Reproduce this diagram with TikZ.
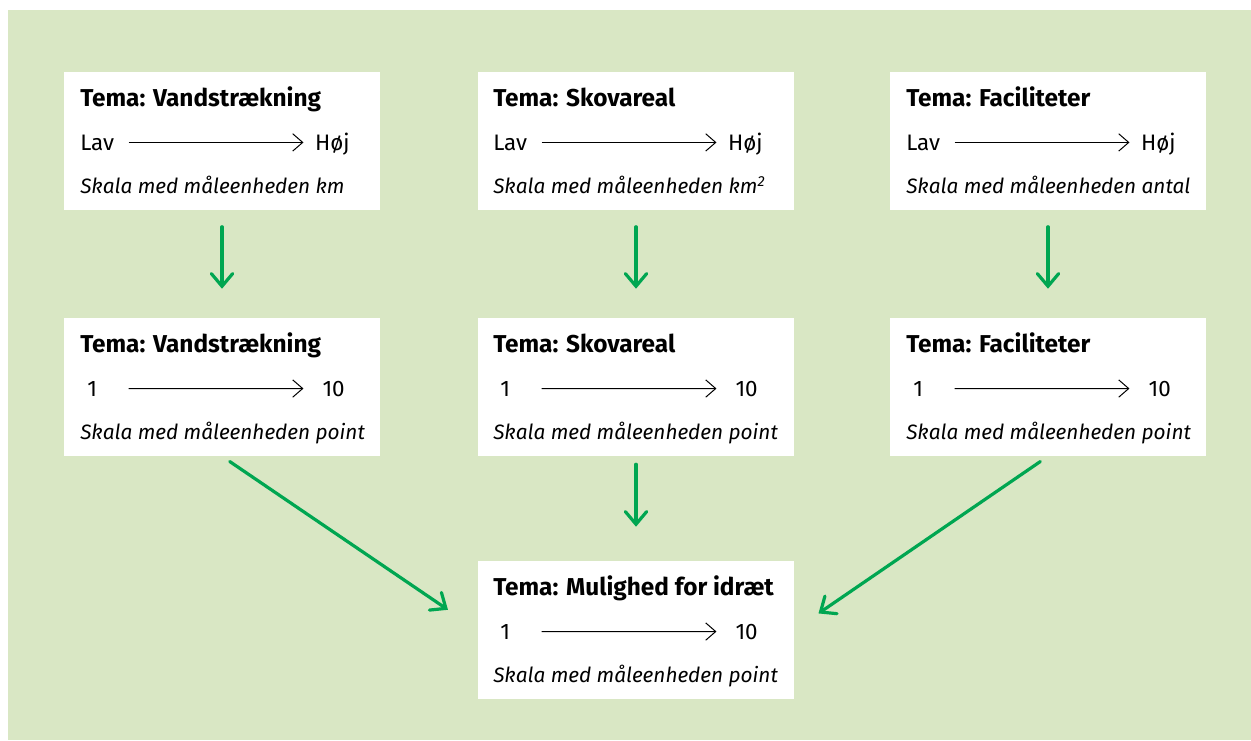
\documentclass[tikz,border=0pt]{standalone}
\usepackage{fontspec}
\setmainfont{Fira Sans}
\usetikzlibrary{arrows.meta}
\definecolor{bggreen}{RGB}{217,231,196}
\definecolor{arrgreen}{RGB}{0,166,81}

\begin{document}
\begin{tikzpicture}[x=0.75pt,y=0.75pt,yscale=-1,xscale=1,
  themebox/.style={fill=white, inner sep=0pt, minimum width=237pt, minimum height=103.5pt},
  titletxt/.style={anchor=base west, inner sep=0pt, font=\fontsize{18.3}{21}\selectfont\bfseries},
  unittxt/.style={anchor=base west, inner sep=0pt, font=\fontsize{15.6}{19}\selectfont\itshape},
  lowlbl/.style={anchor=base west, inner sep=0pt, text width=#1, align=left, font=\fontsize{16.8}{20}\selectfont},
  highlbl/.style={anchor=base east, inner sep=0pt, text width=#1, align=right, font=\fontsize{16.8}{20}\selectfont},
  scalearr/.style={line width=0.75pt, -{Straight Barb[length=7.5pt, width=13pt]}},
  flowarr/.style={arrgreen, line width=2.4pt, line cap=round, -{Straight Barb[length=9.5pt, width=16pt, line cap=round]}}]
\path (0,0) rectangle (1251,740); %picture size
\fill[bggreen] (8,10) rectangle (1251,740);

% Boxes: raw scales
\node[themebox] (vand1) at (222,140.5) {};
\node[themebox] (skov1) at (636,140.5) {};
\node[themebox] (facil1) at (1048,140.5) {};
% Boxes: points
\node[themebox] (vand2) at (222,387) {};
\node[themebox] (skov2) at (636,387) {};
\node[themebox] (facil2) at (1048,387) {};
% Box: result
\node[themebox] (idraet) at (636,630) {};

% Text: Vandstraekning (km)
\node[titletxt] (vand1t) at (80,106) {Tema: Vandstrækning};
\node[lowlbl=36pt] (vand1lo) at (80,150) {Lav};
\node[highlbl=34.5pt] (vand1hi) at (350,150) {Høj};
\node[unittxt] (vand1u) at (80,193) {Skala med måleenheden km};
% Text: Skovareal (km2)
\node[titletxt] (skov1t) at (493,106) {Tema: Skovareal};
\node[lowlbl=36pt] (skov1lo) at (493,150) {Lav};
\node[highlbl=34.5pt] (skov1hi) at (763,150) {Høj};
\node[unittxt] (skov1u) at (493,193) {Skala med måleenheden km\textsuperscript{2}};
% Text: Faciliteter (antal)
\node[titletxt] (facil1t) at (906,106) {Tema: Faciliteter};
\node[lowlbl=36pt] (facil1lo) at (906,150) {Lav};
\node[highlbl=34.5pt] (facil1hi) at (1176,150) {Høj};
\node[unittxt] (facil1u) at (906,193) {Skala med måleenheden antal};

% Text: Vandstraekning (point)
\node[titletxt] (vand2t) at (80,352) {Tema: Vandstrækning};
\node[lowlbl=30.75pt] (vand2lo) at (87,396) {1};
\node[highlbl=30.75pt] (vand2hi) at (345,396) {10};
\node[unittxt] (vand2u) at (80,439) {Skala med måleenheden point};
% Text: Skovareal (point)
\node[titletxt] (skov2t) at (493,352) {Tema: Skovareal};
\node[lowlbl=30.75pt] (skov2lo) at (500,396) {1};
\node[highlbl=30.75pt] (skov2hi) at (758,396) {10};
\node[unittxt] (skov2u) at (493,439) {Skala med måleenheden point};
% Text: Faciliteter (point)
\node[titletxt] (facil2t) at (906,352) {Tema: Faciliteter};
\node[lowlbl=30.75pt] (facil2lo) at (913,396) {1};
\node[highlbl=30.75pt] (facil2hi) at (1171,396) {10};
\node[unittxt] (facil2u) at (906,439) {Skala med måleenheden point};

% Text: Mulighed for idraet
\node[titletxt] (idraett) at (493,595) {Tema: Mulighed for idræt};
\node[lowlbl=30.75pt] (idraetlo) at (500,639) {1};
\node[highlbl=30.75pt] (idraethi) at (758,639) {10};
\node[unittxt] (idraetu) at (493,682) {Skala med måleenheden point};

% Scale arrows inside the boxes
\draw[scalearr] (vand1lo.east) -- (vand1lo.east -| vand1hi.west);
\draw[scalearr] (skov1lo.east) -- (skov1lo.east -| skov1hi.west);
\draw[scalearr] (facil1lo.east) -- (facil1lo.east -| facil1hi.west);
\draw[scalearr] (vand2lo.east) -- (vand2hi.west);
\draw[scalearr] (skov2lo.east) -- (skov2hi.west);
\draw[scalearr] (facil2lo.east) -- (facil2hi.west);
\draw[scalearr] (idraetlo.east) -- (idraethi.west);

% Flow arrows
\draw[flowarr, shorten <=12.75pt, shorten >=21.75pt] (vand1) -- (vand1 |- vand2.north);
\draw[flowarr, shorten <=12.75pt, shorten >=21.75pt] (skov1) -- (skov1 |- skov2.north);
\draw[flowarr, shorten <=12.75pt, shorten >=21.75pt] (facil1.south) -- (facil2.north);
\draw[flowarr, shorten <=6pt, shorten >=25.5pt] (skov2.south) -- (idraet.north);
\draw[flowarr, shorten <=7pt, shorten >=27pt] (vand2.south) -- (idraet.west);
\draw[flowarr, shorten <=7pt, shorten >=22pt] (facil2.south) -- (idraet.east);

\end{tikzpicture}
\end{document}
